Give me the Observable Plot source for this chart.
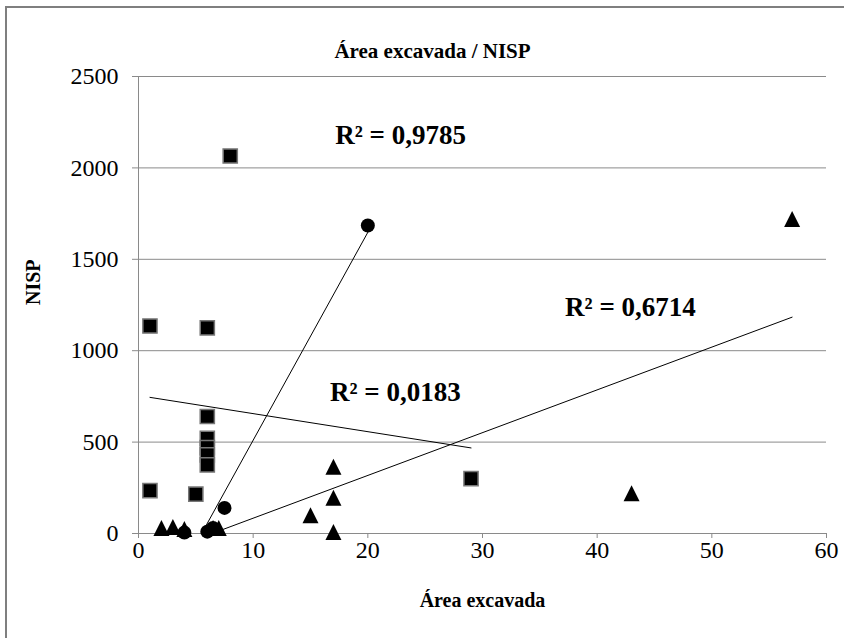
<!DOCTYPE html>
<html><head><meta charset="utf-8">
<script src="https://cdn.jsdelivr.net/npm/d3@7"></script>
<script src="https://cdn.jsdelivr.net/npm/@observablehq/plot@0.6"></script>
<style>
html,body{margin:0;padding:0;background:#fff;overflow:hidden}
#wrap{position:relative;width:844px;height:638px}
#frame{position:absolute;left:5px;top:6px;width:900px;height:700px;border-left:2px solid #7f7f7f;border-top:2px solid #7f7f7f;pointer-events:none}
svg text{font-family:'Liberation Serif','Times New Roman',serif}
</style></head><body><div id="wrap"><div id="frame"></div></div>
<script>
// Squares
const squaresX = [1, 6, 8, 6, 6, 6, 6, 6, 1, 5, 29];
const squaresY = [1135, 1125, 2065, 640, 520, 470, 430, 375, 235, 215, 300];
// Circles
const circlesX = [4, 6, 6.5, 7.5, 20];
const circlesY = [5, 10, 30, 140, 1685];
// Triangles
const trianglesX = [2, 3, 4, 6.5, 7, 15, 17, 17, 17, 43, 57];
const trianglesY = [30, 35, 25, 30, 30, 100, 365, 195, 8, 220, 1720];
// Ticks
const xTicks = [0, 10, 20, 30, 40, 50, 60];
const yTicks = [0, 500, 1000, 1500, 2000, 2500];
// R² annotations
const r2Labels = ["R² = 0,9785", "R² = 0,0183", "R² = 0,6714"];
const r2X = [22.85, 22.4, 42.9];
const r2Y = [2177, 771, 1236];
const titleText = "Área excavada / NISP";
const xLabel = "Área excavada";
const yLabel = "NISP";

const toRows = (xs, ys) => xs.map((x, i) => ({x, y: ys[i]}));
const squares = toRows(squaresX, squaresY);
const circles = toRows(circlesX, circlesY);
const triangles = toRows(trianglesX, trianglesY);
const labels = r2Labels.map((t, i) => ({t, x: r2X[i], y: r2Y[i]}));

const excelTriangle = {
  draw(ctx, size) {
    const h = Math.sqrt(size / Math.PI) * 2;
    ctx.moveTo(0, -h / 2);
    ctx.lineTo(h / 2, h / 2);
    ctx.lineTo(-h / 2, h / 2);
    ctx.closePath();
  }
};

const grey = "#8a8a8a";
const chart = Plot.plot({
  width: 844,
  height: 638,
  marginLeft: 138,
  marginRight: 18,
  marginTop: 76,
  marginBottom: 105,
  style: {fontFamily: "'Liberation Serif', 'Times New Roman', serif", color: "#000", background: "transparent"},
  x: {domain: [0, 60]},
  y: {domain: [0, 2500]},
  marks: [
    Plot.gridY(yTicks, {stroke: grey, strokeOpacity: 1, strokeWidth: 1}),
    Plot.ruleX([0], {y1: 0, y2: 2500, stroke: grey}),
    Plot.ruleY([0], {stroke: grey}),
    Plot.axisY({ticks: yTicks, tickSize: 6, tickPadding: 14, fontSize: 24, stroke: grey, label: null, tickFormat: d => String(d)}),
    Plot.axisX({ticks: xTicks, tickSize: 5, tickPadding: 2, fontSize: 24, stroke: grey, label: null, tickFormat: d => String(d)}),
    Plot.dot(squares, {x: "x", y: "y", symbol: "square", r: 8, fill: "#000", stroke: "#777", strokeWidth: 1.5}),
    Plot.dot(circles, {x: "x", y: "y", symbol: "circle", r: 7, fill: "#000", stroke: "none"}),
    Plot.dot(triangles, {x: "x", y: "y", symbol: excelTriangle, r: 8, fill: "#000", stroke: "none"}),
    Plot.linearRegressionY(squares, {x: "x", y: "y", ci: 0, stroke: "#000", strokeWidth: 1, clip: true}),
    Plot.linearRegressionY(circles, {x: "x", y: "y", ci: 0, stroke: "#000", strokeWidth: 1, clip: true}),
    Plot.linearRegressionY(triangles, {x: "x", y: "y", ci: 0, stroke: "#000", strokeWidth: 1, clip: true}),
    Plot.text(labels, {x: "x", y: "y", text: "t", fontSize: 27, fontWeight: "bold", fill: "#000"}),
    Plot.text([titleText], {frameAnchor: "top", dx: -50, dy: -33, fontSize: 21, fontWeight: "bold", fill: "#000"}),
    Plot.text([xLabel], {frameAnchor: "bottom", dy: 73, fontSize: 20, fontWeight: "bold", fill: "#000"}),
    Plot.text([yLabel], {frameAnchor: "left", dx: -105, rotate: -90, fontSize: 20, fontWeight: "bold", fill: "#000"})
  ]
});
document.getElementById("wrap").prepend(chart);
</script></body></html>
